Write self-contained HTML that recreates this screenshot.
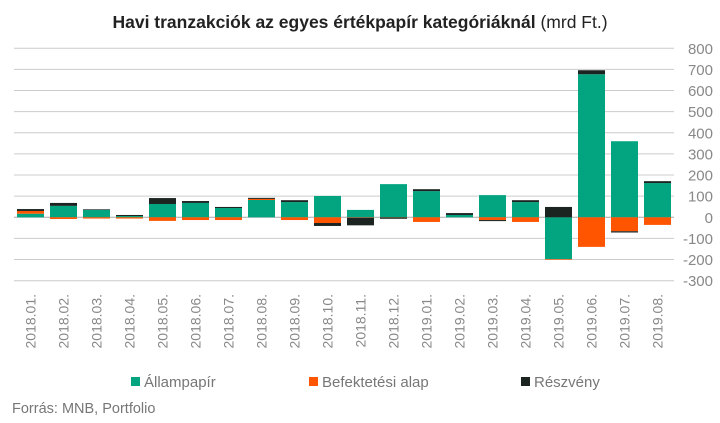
<!DOCTYPE html>
<html><head><meta charset="utf-8">
<style>
body{margin:0;background:#fff;font-family:"Liberation Sans",sans-serif;}
svg text{font-family:"Liberation Sans",sans-serif;}
</style></head>
<body>
<svg width="720" height="418" viewBox="0 0 720 418">
<text x="360" y="28" text-anchor="middle" font-size="17.5" fill="#222"><tspan font-weight="bold">Havi tranzakciók az egyes értékpapír kategóriáknál</tspan> (mrd Ft.)</text>
<g id="grid"></g>
<g id="bars"></g>
<g id="xlabels"></g>
<g id="legend">
<rect x="131" y="377" width="9" height="9" fill="#02a580"/>
<text x="144" y="387" font-size="15" fill="#777">Állampapír</text>
<rect x="309" y="377" width="9" height="9" fill="#ff5500"/>
<text x="322" y="387" font-size="15" fill="#777">Befektetési alap</text>
<rect x="521" y="377" width="9" height="9" fill="#1b2421"/>
<text x="534" y="387" font-size="15" fill="#777">Részvény</text>
</g>
<text x="12" y="413" font-size="14.5" fill="#777">Forrás: MNB, Portfolio</text>
</svg>
<script>
const categories=["2018.01.","2018.02.","2018.03.","2018.04.","2018.05.","2018.06.","2018.07.","2018.08.","2018.09.","2018.10.","2018.11.","2018.12.","2019.01.","2019.02.","2019.03.","2019.04.","2019.05.","2019.06.","2019.07.","2019.08."];
const allampapir=[17,54,35,6,63,68,44,82,72,101,35,157,124,11,105,72,-198,677,360,162];
const befektetesi=[13,-8,-6,-6,-17,-13,-13,5,-13,-27,-2,-1,-22,0,-13,-22,-3,-140,-66,-36];
const reszveny=[9,14,3,5,28,9,5,5,9,-14,-36,-6,9,9,-5,9,49,19,-6,9];
const yTicks=[800,700,600,500,400,300,200,100,0,-100,-200,-300];
const NS="http://www.w3.org/2000/svg";
const X0=14,X1=674,Y0=217.3,PX=0.2113;
const y=v=>Y0-v*PX;
const pitch=(X1-X0)/categories.length,bw=27;
const xc=i=>X0+pitch*(i+0.5);
function mk(t,a){const e=document.createElementNS(NS,t);for(const k in a)e.setAttribute(k,a[k]);return e;}
const grid=document.getElementById('grid');
yTicks.forEach(t=>{
  const l=mk('line',{x1:X0,x2:X1,y1:y(t),y2:y(t),stroke:t===0?'#aaa':'#ccc','stroke-width':1});
  
  
  grid.appendChild(l);
  const tx=mk('text',{x:713,y:y(t)+5.5,'text-anchor':'end','font-size':15,fill:'#888'});
  tx.textContent=t;
  
  
  grid.appendChild(tx);
});
const bars=document.getElementById('bars');
const series=[[allampapir,'#02a580','allampapir'],[befektetesi,'#ff5500','befektetesi-alap'],[reszveny,'#1b2421','reszveny']];
categories.forEach((c,i)=>{
  let pos=0,neg=0;
  series.forEach(([arr,col,nm])=>{
    const v=arr[i];if(!v)return;
    let a,b;
    if(v>0){a=pos;b=pos+v;pos=b;}else{a=neg;b=neg+v;neg=b;}
    const r=mk('rect',{x:xc(i)-bw/2,width:bw,y:Math.min(y(a),y(b)),height:Math.abs(y(a)-y(b)),fill:col});
    
    
    bars.appendChild(r);
  });
});
const xl=document.getElementById('xlabels');
categories.forEach((c,i)=>{
  const t=mk('text',{x:0,y:0,'text-anchor':'end','font-size':14,fill:'#888',transform:`translate(${xc(i)+5},294) rotate(-90)`});
  t.textContent=c;
  
  
  xl.appendChild(t);
});
</script>
</body></html>
